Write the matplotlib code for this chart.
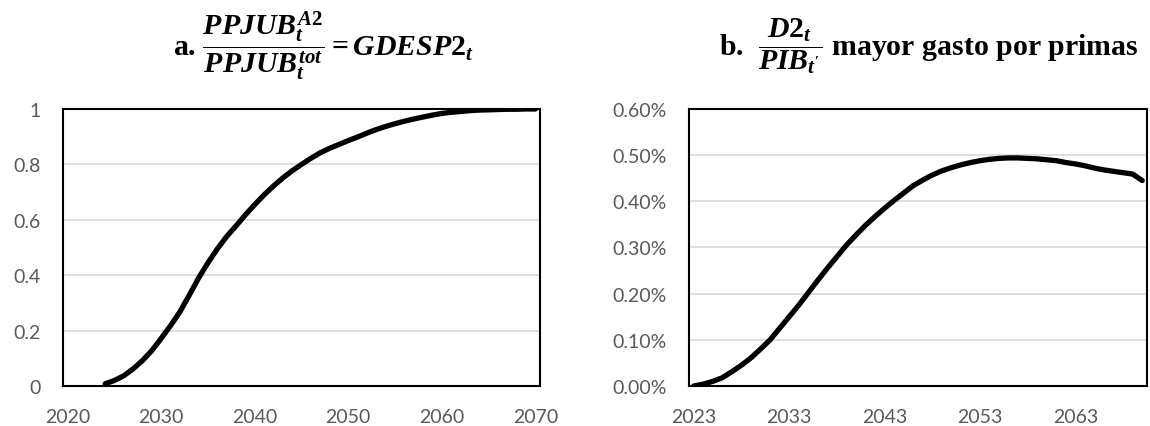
import matplotlib
matplotlib.use("Agg")
import matplotlib.pyplot as plt
from matplotlib.ticker import PercentFormatter, FuncFormatter

# panel a: share of A2 pensions in total (GDESP2_t)
years_a = list(range(2024, 2071))
gdesp2 = [0.008, 0.02, 0.037, 0.062, 0.092, 0.128, 0.172, 0.218, 0.268, 0.328,
          0.39, 0.445, 0.495, 0.54, 0.578, 0.618, 0.655, 0.69, 0.722, 0.751,
          0.777, 0.80, 0.822, 0.842, 0.858, 0.872, 0.886, 0.899, 0.913, 0.926,
          0.937, 0.947, 0.956, 0.964, 0.971, 0.978, 0.984, 0.988, 0.991, 0.994,
          0.996, 0.997, 0.998, 0.999, 0.999, 1.0, 1.0]

# panel b: extra spending on premiums, % of GDP
years_b = list(range(2023, 2071))
d2_pib = [0.0, 0.004, 0.010, 0.018, 0.031, 0.045, 0.061, 0.08, 0.10, 0.125,
          0.15, 0.175, 0.202, 0.229, 0.255, 0.28, 0.305, 0.327, 0.348, 0.367,
          0.385, 0.402, 0.418, 0.434, 0.446, 0.457, 0.466, 0.473, 0.479, 0.484,
          0.488, 0.491, 0.493, 0.494, 0.494, 0.493, 0.492, 0.49, 0.488, 0.484,
          0.481, 0.477, 0.472, 0.468, 0.465, 0.462, 0.459, 0.445]

xticks_a = [2020, 2030, 2040, 2050, 2060, 2070]
yticks_a = [0, 0.2, 0.4, 0.6, 0.8, 1]
xticks_b = [2023, 2033, 2043, 2053, 2063]
yticks_b = [0.0, 0.1, 0.2, 0.3, 0.4, 0.5, 0.6]

plt.rcParams['font.family'] = ['Lato', 'DejaVu Sans']
plt.rcParams['mathtext.fontset'] = 'custom'
plt.rcParams['mathtext.it'] = 'Liberation Serif:bold:italic'
plt.rcParams['mathtext.rm'] = 'Liberation Serif:bold'
plt.rcParams['mathtext.bf'] = 'Liberation Serif:bold'

fig = plt.figure(figsize=(11.5, 4.27), dpi=100)
ax1 = fig.add_axes([0.0548, 0.0937, 0.4148, 0.6487])
ax2 = fig.add_axes([0.5991, 0.0937, 0.3983, 0.6487])

tick_col = '#595959'
for ax in (ax1, ax2):
    for s in ax.spines.values():
        s.set_linewidth(1.5)
        s.set_color('black')
    ax.grid(True, axis='y', color='#d9d9d9', linewidth=1.2)
    ax.set_axisbelow(True)
    ax.tick_params(length=0, labelsize=14, labelcolor=tick_col)
    ax.tick_params(axis='x', pad=16)
    ax.tick_params(axis='y', pad=16)

ax1.plot(years_a, gdesp2, color='black', linewidth=3.8, solid_capstyle='round')
ax1.set_xlim(2019.5, 2070.5)
ax1.set_ylim(0, 1)
ax1.set_xticks(xticks_a)
ax1.set_yticks(yticks_a)
ax1.yaxis.set_major_formatter(FuncFormatter(lambda v, p: f'{v:g}'))

ax2.plot(years_b, d2_pib, color='black', linewidth=3.8, solid_capstyle='round')
ax2.set_xlim(2022.5, 2070.5)
ax2.set_ylim(0, 0.6)
ax2.set_xticks(xticks_b)
ax2.set_yticks(yticks_b)
ax2.yaxis.set_major_formatter(PercentFormatter(xmax=100, decimals=2))

fig.text(0.281, 0.892, r'a. $\dfrac{PPJUB_t^{A2}}{PPJUB_t^{tot}} = GDESP2_t$',
         family='Liberation Serif', weight='bold', fontsize=21.5,
         ha='center', va='center')
fig.text(0.808, 0.892, r'b.  $\dfrac{D2_t}{PIB_{t^{\prime}}}$ mayor gasto por primas',
         family='Liberation Serif', weight='bold', fontsize=21.5,
         ha='center', va='center')

fig.savefig('out.png', dpi=100)
